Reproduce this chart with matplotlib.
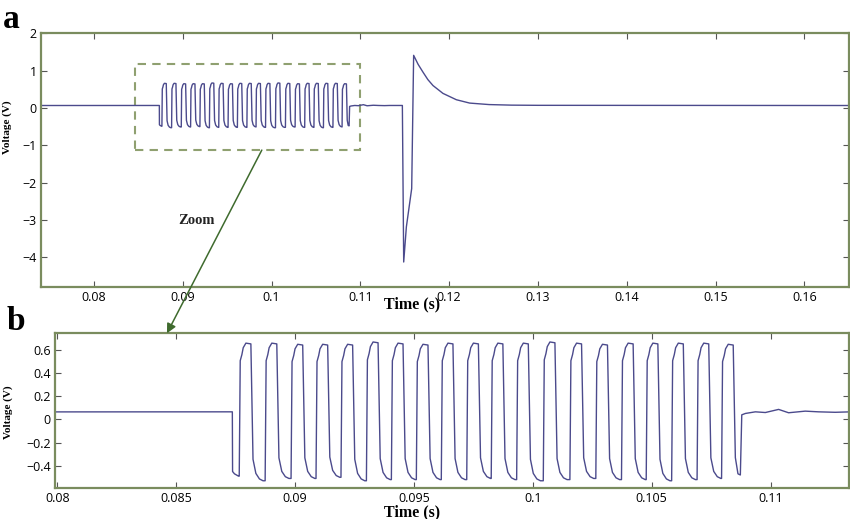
import matplotlib
matplotlib.use("Agg")
import matplotlib.pyplot as plt
from matplotlib.patches import Rectangle, ConnectionPatch
from matplotlib.ticker import FuncFormatter

plt.rcParams['font.family'] = ['Open Sans', 'DejaVu Sans']

# --- values ---
baseline_v = 0.065

# rising edges of the 20 pulses (s)
pulse_rise = [0.08765, 0.08874, 0.08983, 0.09088, 0.09193, 0.09300, 0.09405,
              0.09510, 0.09615, 0.09722, 0.09825, 0.09932, 0.10044, 0.10156,
              0.10265, 0.10373, 0.10477, 0.10584, 0.10691, 0.10794]
pulse_peak = [0.66, 0.66, 0.65, 0.65, 0.65, 0.67, 0.66, 0.65, 0.66, 0.66,
              0.66, 0.66, 0.67, 0.66, 0.65, 0.66, 0.66, 0.66, 0.66, 0.65]
pulse_trough = [-0.53, -0.51, -0.51, -0.50, -0.53, -0.52, -0.52, -0.52, -0.52,
                -0.51, -0.52, -0.53, -0.52, -0.51, -0.52, -0.52, -0.53, -0.52,
                -0.51, -0.48]

# shape of one pulse (offset from rise in s, fraction of peak / trough)
high_dt = [0.0, 0.000042, 0.000112, 0.000168, 0.00028, 0.00049]
high_frac = [None, 0.77, 0.85, 0.94, 1.0, 0.99]
low_dt = [0.00058, 0.00070, 0.00085, 0.00100]
low_frac = [0.65, 0.88, 0.97, 1.0]

# start of the burst
lead_t = [0.07400, 0.08736, 0.08737, 0.08745, 0.08762]
lead_v = [baseline_v, 0.066, -0.45, -0.47, -0.49]

# end of the burst and the quiet part after it
tail_t = [0.10852, 0.10863, 0.10873, 0.10879, 0.108943, 0.109363, 0.109782,
          0.110340, 0.110759, 0.111460, 0.112018, 0.112718, 0.113276, 0.11473]
tail_v = [-0.33, -0.47, -0.48, 0.04, 0.052, 0.066, 0.060, 0.087, 0.058,
          0.072, 0.066, 0.062, 0.066, 0.066]

# big spike and its decay
spike_t = [0.11488, 0.11518, 0.11578, 0.11600, 0.11650, 0.11705, 0.11760,
           0.11818, 0.11930, 0.12081, 0.12231, 0.12450, 0.12700, 0.13000,
           0.16500]
spike_v = [-4.13, -3.19, -2.16, 1.41, 1.17, 0.96, 0.76, 0.60, 0.39, 0.22,
           0.13, 0.09, 0.075, 0.07, 0.065]

# assemble the trace vertices
t_vals = list(lead_t)
v_vals = list(lead_v)
n_pulse = len(pulse_rise)
for i in range(n_pulse):
    t0 = pulse_rise[i]
    prev_low = pulse_trough[i - 1] if i > 0 else lead_v[-1]
    for dt, fr in zip(high_dt, high_frac):
        t_vals.append(t0 + dt)
        v_vals.append(prev_low if fr is None else pulse_peak[i] * fr)
    if i < n_pulse - 1:
        for dt, fr in zip(low_dt, low_frac):
            t_vals.append(t0 + dt)
            v_vals.append(pulse_trough[i] * fr)
        t_vals.append(pulse_rise[i + 1])
        v_vals.append(pulse_trough[i])
t_vals += tail_t + spike_t
v_vals += tail_v + spike_v

line_color = '#4b4a8c'
spine_color = '#7a8c5e'


def tick_fmt(x, pos):
    return ('%g' % round(x, 6)).replace('-', '\u2212')


def style_axes(ax):
    for sp in ax.spines.values():
        sp.set_color(spine_color)
        sp.set_linewidth(1.6)
    ax.tick_params(direction='in', top=True, right=True, length=4,
                   width=0.8, color='#555555', labelsize=9, pad=3)
    ax.xaxis.set_major_formatter(FuncFormatter(tick_fmt))
    ax.yaxis.set_major_formatter(FuncFormatter(tick_fmt))


fig = plt.figure(figsize=(8.5, 5.19), dpi=100)
ax_a = fig.add_axes([0.0479, 0.447, 0.9506, 0.4888])
ax_b = fig.add_axes([0.0647, 0.0603, 0.9341, 0.2975])

for ax in (ax_a, ax_b):
    ax.plot(t_vals, v_vals, color=line_color, lw=1.0)
    style_axes(ax)

ax_a.set_xlim(0.074, 0.165)
ax_a.set_ylim(-4.8, 2)
ax_a.set_xticks([0.08, 0.09, 0.1, 0.11, 0.12, 0.13, 0.14, 0.15, 0.16])
ax_a.set_yticks([-4, -3, -2, -1, 0, 1, 2])

ax_b.set_xlim(0.0799, 0.1133)
ax_b.set_ylim(-0.59, 0.745)
ax_b.set_xticks([0.08, 0.085, 0.09, 0.095, 0.1, 0.105, 0.11])
ax_b.set_yticks([-0.4, -0.2, 0, 0.2, 0.4, 0.6])

serif = ['Liberation Serif', 'DejaVu Serif']
for ax in (ax_a, ax_b):
    ax.set_xlabel('Time (s)', family=serif, fontweight='bold', fontsize=11.5)
    ax.set_ylabel('Voltage (V)', family=serif, fontweight='bold', fontsize=8)
ax_a.xaxis.set_label_coords(0.46, -0.038)
ax_a.yaxis.set_label_coords(-0.036, 0.63)
ax_b.xaxis.set_label_coords(0.45, -0.105)
ax_b.yaxis.set_label_coords(-0.053, 0.49)

# dashed zoom box on panel a
ax_a.add_patch(Rectangle((0.0846, -1.13), 0.0254, 2.31, fill=False,
                         ls=(0, (4, 3)), lw=1.5, ec='#8fa070'))
ax_a.text(0.0916, -3.03, 'Zoom', family=serif, fontweight='bold',
          fontsize=10.5, ha='center', va='center', color='#222222')

arrow = ConnectionPatch(xyA=(0.0989, -1.13), coordsA=ax_a.transData,
                        xyB=(0.08461, 0.745), coordsB=ax_b.transData,
                        arrowstyle='-|>', mutation_scale=14,
                        color='#3f6b2e', lw=1.1)
fig.add_artist(arrow)

fig.text(0.003, 0.962, 'a', family=serif, fontweight='bold', fontsize=24,
         va='center', ha='left')
fig.text(0.008, 0.38, 'b', family=serif, fontweight='bold', fontsize=24,
         va='center', ha='left')

fig.savefig('out.png', dpi=100)
